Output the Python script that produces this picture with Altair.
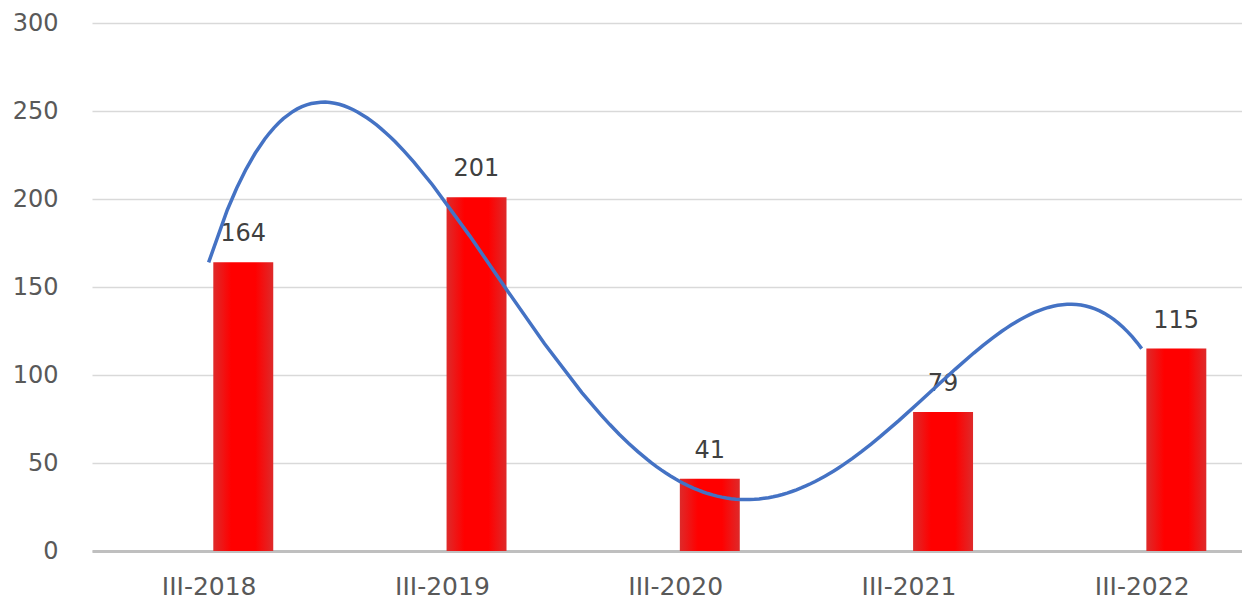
import altair as alt
import pandas as pd

categories = ["III-2018", "III-2019", "III-2020", "III-2021", "III-2022"]
values = [164, 201, 41, 79, 115]
y_ticks = [0, 50, 100, 150, 200, 250, 300]

df = pd.DataFrame({"idx": list(range(len(categories))), "cat": categories, "value": values})

label_expr = "[" + ",".join("'" + c + "'" for c in categories) + "][datum.value]"

FONT = "DejaVu Sans"

xscale = alt.Scale(domain=[-0.5, 4.43], nice=False, zero=False)
yscale = alt.Scale(domain=[0, 300], nice=False)

base = alt.Chart(df)

bars = base.transform_calculate(
    x1="datum.idx + 0.02", x2="datum.idx + 0.277"
).mark_bar(
    color=alt.Gradient(
        gradient="linear",
        x1=0, x2=1, y1=0, y2=0,
        stops=[
            alt.GradientStop(offset=0, color="#DE2A2A"),
            alt.GradientStop(offset=0.3, color="#FF0000"),
            alt.GradientStop(offset=0.7, color="#FF0000"),
            alt.GradientStop(offset=1, color="#DE2A2A"),
        ],
    )
).encode(
    x=alt.X("x1:Q", scale=xscale,
            axis=alt.Axis(values=list(range(len(categories))), labelExpr=label_expr,
                          title=None, grid=False, ticks=False, domain=True,
                          domainColor="#BFBFBF", domainWidth=3,
                          labelFont=FONT, labelFontSize=25, labelColor="#595959",
                          labelPadding=23)),
    x2="x2:Q",
    y=alt.Y("value:Q", scale=yscale,
            axis=alt.Axis(values=y_ticks, title=None, grid=True, gridColor="#D9D9D9",
                          gridWidth=1.5, ticks=False, domain=False,
                          labelFont=FONT, labelFontSize=24, labelColor="#595959",
                          labelPadding=34)),
    y2=alt.datum(0),
)

texts = base.transform_calculate(
    xc="datum.idx + 0.148"
).mark_text(font=FONT, fontSize=24, color="#404040", baseline="middle", dy=-28).encode(
    x=alt.X("xc:Q", scale=xscale),
    y=alt.Y("value:Q", scale=yscale),
    text=alt.Text("value:Q"),
)

trend = base.transform_regression(
    "idx", "value", method="poly", order=4, extent=[0, 4]
).mark_line(color="#4472C4", strokeWidth=3.5).encode(
    x=alt.X("idx:Q", scale=xscale),
    y=alt.Y("value:Q", scale=yscale),
)

chart = alt.layer(bars, texts, trend).properties(
    width=1150, height=528,
    autosize=alt.AutoSizeParams(type="none"),
    padding={"left": 84, "top": 15, "right": 0, "bottom": 47},
).configure_view(stroke=None)

chart.save("out.html", embed_options={"renderer": "svg", "actions": False})
